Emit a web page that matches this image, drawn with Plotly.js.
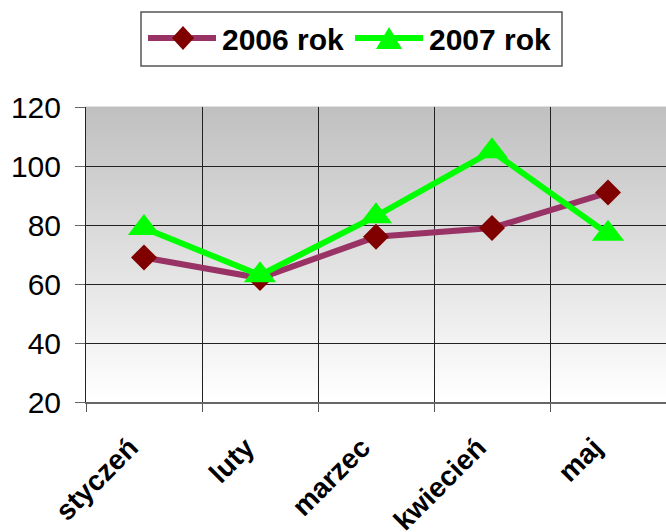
<!DOCTYPE html>
<html>
<head>
<meta charset="utf-8">
<script src="https://cdn.plot.ly/plotly-3.0.1.min.js"></script>
<style>html,body{margin:0;padding:0;background:#fff;overflow:hidden}</style>
</head>
<body>
<div id="chart" style="width:666px;height:532px"></div>
<script>
// ---- data ----
const categories = ['styczeń', 'luty', 'marzec', 'kwiecień', 'maj'];
const rok2006 = [69, 62, 76, 79, 91];
const rok2007 = [79, 63, 83, 105, 77];
const seriesNames = ['2006 rok', '2007 rok'];
const yTickVals = [20, 40, 60, 80, 100, 120];

// ---- geometry helpers (style only) ----
const W = 666, H = 532, ML = 86, MR = 0, MT = 107, MB = 130;
const PW = W - ML - MR, PH = H - MT - MB;
const px = v => (v - ML) / PW;
const py = v => (MT + PH - v) / PH;
const FONT = '"Liberation Sans", Arial, sans-serif';

const traces = [
  {
    x: categories, y: rok2006, name: seriesNames[0], type: 'scatter', mode: 'lines+markers',
    line: {color: '#993366', width: 6},
    marker: {symbol: 'diamond', size: 20, color: '#800000'},
    showlegend: false
  },
  {
    x: categories, y: rok2007, name: seriesNames[1], type: 'scatter', mode: 'lines+markers',
    line: {color: '#00ff00', width: 6},
    marker: {symbol: 'triangle-up', size: 28, color: '#00ff00'},
    showlegend: false
  }
];

// gradient background strips
const shapes = [];
const N = 118;
for (let i = 0; i < N; i++) {
  const t = i / (N - 1);
  const c = Math.round(192 + (255 - 192) * t);
  shapes.push({
    type: 'rect', xref: 'x domain', yref: 'y domain', layer: 'below',
    x0: 0, x1: 1, y0: 1 - (i + 1) / N, y1: 1 - i / N + 0.002,
    fillcolor: `rgb(${c},${c},${c})`, line: {width: 0}
  });
}

// custom legend
shapes.push({
  type: 'rect', xref: 'paper', yref: 'paper',
  x0: px(141), x1: px(562), y0: py(66), y1: py(12),
  fillcolor: '#ffffff', line: {color: '#555555', width: 1.5}
});
shapes.push({
  type: 'line', xref: 'paper', yref: 'paper',
  x0: px(148), x1: px(216), y0: py(38), y1: py(38),
  line: {color: '#993366', width: 6}
});
shapes.push({
  type: 'line', xref: 'paper', yref: 'paper',
  x0: px(355), x1: px(423), y0: py(38), y1: py(38),
  line: {color: '#00ff00', width: 6}
});
function pathFrom(points) {
  return 'M' + points.map(p => px(p[0]) + ',' + py(p[1])).join(' L') + ' Z';
}
shapes.push({
  type: 'path', xref: 'paper', yref: 'paper',
  path: pathFrom([[183, 26], [194, 38], [183, 50], [172, 38]]),
  fillcolor: '#800000', line: {width: 0}
});
shapes.push({
  type: 'path', xref: 'paper', yref: 'paper',
  path: pathFrom([[389, 27], [402, 49], [376, 49]]),
  fillcolor: '#00ff00', line: {width: 0}
});

const annotations = [
  {xref: 'paper', yref: 'paper', x: px(220), y: py(39), xanchor: 'left', yanchor: 'middle',
   text: '<b>' + seriesNames[0] + '</b>', showarrow: false, font: {family: FONT, size: 30, color: '#000'}},
  {xref: 'paper', yref: 'paper', x: px(427), y: py(39), xanchor: 'left', yanchor: 'middle',
   text: '<b>' + seriesNames[1] + '</b>', showarrow: false, font: {family: FONT, size: 30, color: '#000'}}
];

const layout = {
  width: W, height: H,
  margin: {l: ML, r: MR, t: MT, b: MB, pad: 0},
  paper_bgcolor: '#ffffff', plot_bgcolor: 'rgba(0,0,0,0)',
  font: {family: FONT, color: '#000'},
  showlegend: false,
  xaxis: {
    type: 'category', range: [-0.5, categories.length - 0.5], autorange: false,
    tickson: 'boundaries', showgrid: true, gridcolor: '#222222', gridwidth: 1,
    ticks: 'outside', ticklen: 8, tickcolor: '#555555', tickwidth: 1,
    showline: true, linecolor: '#666666', linewidth: 2,
    tickangle: -45, ticklabelstandoff: 16, ticklabelshift: -14,
    tickfont: {family: FONT, size: 28, color: '#000', weight: 'bold'},
    zeroline: false, fixedrange: true
  },
  yaxis: {
    range: [20, 120], tickvals: yTickVals, showgrid: true, gridcolor: '#222222', gridwidth: 1,
    ticks: 'outside', ticklen: 10, tickcolor: '#666666', tickwidth: 1,
    showline: true, linecolor: '#222222', linewidth: 1,
    ticklabelstandoff: 8,
    tickfont: {family: FONT, size: 30, color: '#000'},
    zeroline: false, fixedrange: true
  },
  shapes: shapes,
  annotations: annotations
};

Plotly.newPlot('chart', traces, layout, {displayModeBar: false, staticPlot: true});
</script>
</body>
</html>
